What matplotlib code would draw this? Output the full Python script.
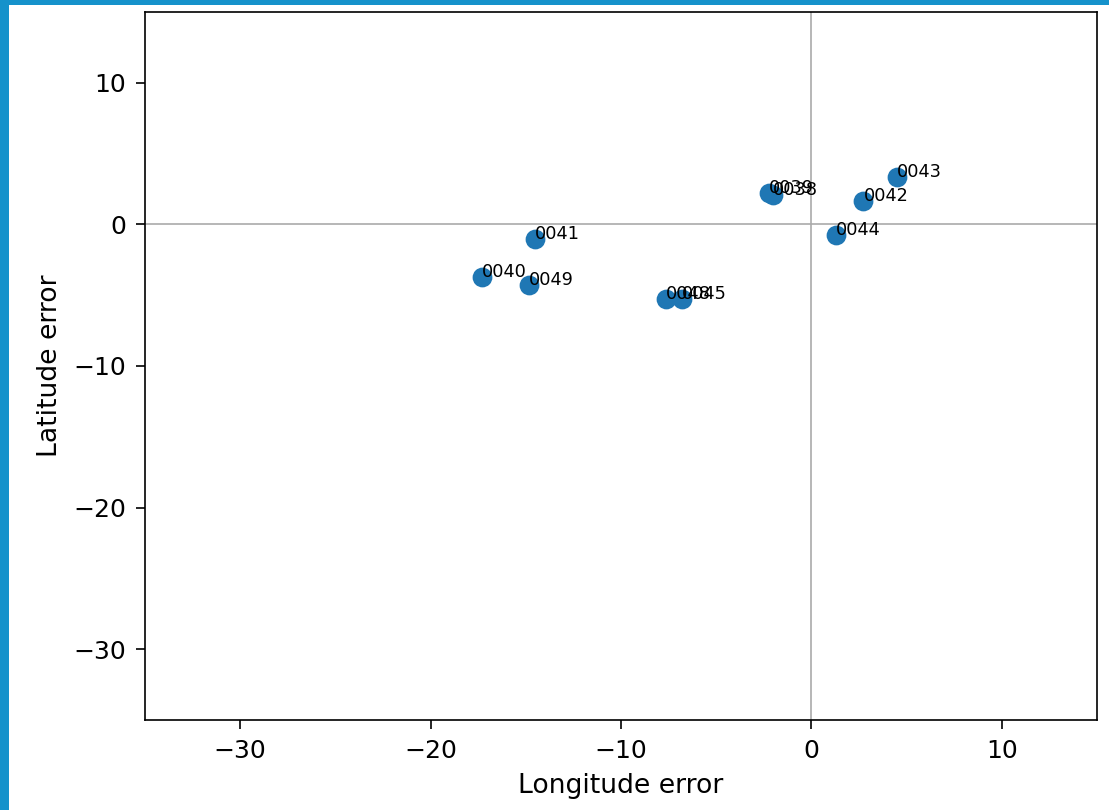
import matplotlib
matplotlib.use("Agg")
import matplotlib.pyplot as plt
from matplotlib.patches import Rectangle

labels = ["0038", "0039", "0040", "0041", "0042", "0043", "0044", "0045", "0048", "0049"]
lon_err = [-2.0, -2.25, -17.3, -14.5, 2.73, 4.47, 1.31, -6.78, -7.62, -14.82]
lat_err = [2.1, 2.25, -3.75, -1.05, 1.62, 3.37, -0.77, -5.27, -5.27, -4.29]

fig = plt.figure(figsize=(1109 / 150, 810 / 150), dpi=150)
fig.patch.set_facecolor("#1592cb")
bg = Rectangle((9 / 1109, 0), 1, 1 - 5 / 810, transform=fig.transFigure,
               facecolor="white", edgecolor="none", zorder=-10)
fig.add_artist(bg)

ax = fig.add_axes([145 / 1109, 1 - 720 / 810, (1097 - 145) / 1109, (720 - 12) / 810])
ax.set_zorder(5)
ax.axhline(0, color="#aaaaaa", linewidth=0.8, zorder=1)
ax.axvline(0, color="#aaaaaa", linewidth=0.8, zorder=1)
ax.scatter(lon_err, lat_err, s=72, color="#1f77b4", zorder=2)
for lab, x, y in zip(labels, lon_err, lat_err):
    ax.text(x, y, lab, fontsize=8.5, zorder=3)

ax.set_xlim(-35, 15)
ax.set_ylim(-35, 15)
ax.set_xticks([-30, -20, -10, 0, 10])
ax.set_yticks([-30, -20, -10, 0, 10])
ax.tick_params(labelsize=12, length=4.5, pad=4.5)
ax.set_xlabel("Longitude error", fontsize=12.8, labelpad=5)
ax.set_ylabel("Latitude error", fontsize=12.8, labelpad=5)

fig.savefig("out.png", dpi=150, facecolor=fig.get_facecolor())
